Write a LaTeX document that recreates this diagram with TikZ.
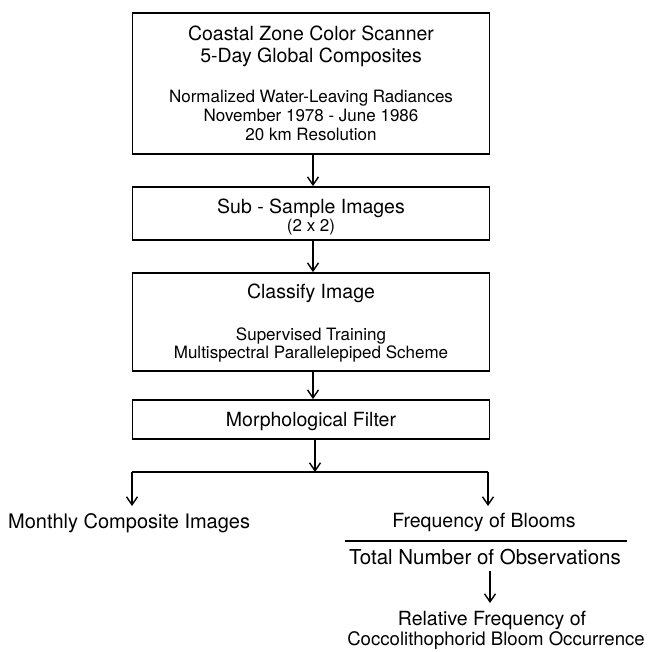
\documentclass[tikz,border=0pt]{standalone}
\usepackage{fontspec}
\setmainfont{TeX Gyre Heros}
\usetikzlibrary{arrows.meta}
\begin{document}
\begin{tikzpicture}[x=1pt,y=-1pt,
  box/.style={draw=black,line width=1.8pt,rectangle,inner sep=0pt},
  big/.style={font=\fontsize{19.5}{22}\selectfont,inner sep=0pt,anchor=base},
  small/.style={font=\fontsize{17}{18}\selectfont,inner sep=0pt,anchor=base},
  arr/.style={line width=1.4pt,-{Straight Barb[length=8pt,width=11pt,line width=1.4pt]}},
  ln/.style={line width=1.4pt}]
\useasboundingbox (0,0) rectangle (650,652);
% boxes
\node[box,minimum width=357pt,minimum height=141pt] (b1) at (311,83.5) {};
\node[box,minimum width=357pt,minimum height=53pt] (b2) at (311,213.5) {};
\node[box,minimum width=357pt,minimum height=98pt] (b3) at (311,322) {};
\node[box,minimum width=357pt,minimum height=39pt] (b4) at (311,419.5) {};
% box texts
\node[big] (t1a) at (311,41) {Coastal Zone Color Scanner};
\node[big] (t1b) at (311,63) {5-Day Global Composites};
\node[small] (t1c) at (311,103) {Normalized Water-Leaving Radiances};
\node[small] (t1d) at (311,122) {November 1978 - June 1986};
\node[small] (t1e) at (311,141) {20 km Resolution};
\node[big] (t2a) at (311,213) {Sub - Sample Images};
\node[small] (t2b) at (311,231) {(2 x 2)};
\node[big] (t3a) at (311,298) {Classify Image};
\node[small] (t3b) at (311,340) {Supervised Training};
\node[small] (t3c) at (311,358) {Multispectral Parallelepiped Scheme};
\node[big] (t4a) at (311,426) {Morphological Filter};
% bottom texts
\node[big,anchor=base west,font=\fontsize{20}{22}\selectfont] (mon) at (8,528) {Monthly Composite Images};
\node[big] (freq) at (484,527) {Frequency of Blooms};
\node[big,font=\fontsize{20.5}{22}\selectfont] (tot) at (485,564) {Total Number of Observations};
\node[big] (rel) at (492,625) {Relative Frequency of};
\node[big,font=\fontsize{18.6}{22}\selectfont] (coc) at (496,645) {Coccolithophorid Bloom Occurrence};
% connectors
\draw[arr] (b1.south -| 313,0) -- (b2.north -| 313,0);
\draw[arr] (b2.south -| 313,0) -- (b3.north -| 313,0);
\draw[arr] (b3.south -| 313,0) -- (b4.north -| 313,0);
\coordinate (j) at (315,472);
\coordinate (jl) at (132,472);
\coordinate (jr) at (488,472);
\coordinate (el) at (132,506);
\coordinate (er) at (488,506);
\draw[arr] (b4.south -| j) -- (j);
\draw[ln] (jl) -- (jr);
\draw[arr] (jl) -- (el);
\draw[arr] (jr) -- (er);
\coordinate (fl) at (345,541);
\coordinate (fr) at (627,541);
\draw[line width=2pt] (fl) -- (fr);
\coordinate (as) at (490,571);
\coordinate (ae) at (490,603);
\draw[arr] (as) -- (ae);
\end{tikzpicture}
\end{document}
